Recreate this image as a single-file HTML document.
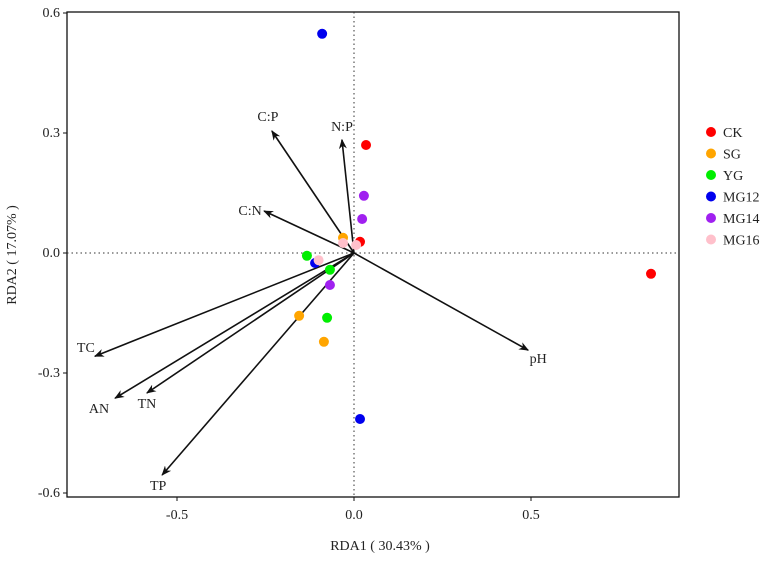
<!DOCTYPE html>
<html><head><meta charset="utf-8"><style>
body{margin:0;background:#fff}
svg text{font-family:"Liberation Serif",serif;fill:#222}
</style></head><body>
<svg id="chart" width="767" height="556" xmlns="http://www.w3.org/2000/svg">
<defs><marker id="ah" markerWidth="10" markerHeight="8" refX="9" refY="4" orient="auto" markerUnits="userSpaceOnUse"><path d="M0,0 L10,4 L0,8 L3,4 Z" fill="#111"/></marker></defs>
<g id="plot"></g>
</svg>
<script>
const groups=["CK","SG","YG","MG12","MG14","MG16"];
const colors=["#ff0000","#ffa500","#00ee00","#0000ee","#a020f0","#ffc0cb"];
const ptX=[[0.034,0.017,0.839],[-0.031,-0.155,-0.085],[-0.133,-0.068,-0.076],[-0.09,-0.11,0.017],[0.028,0.023,-0.068],[-0.031,-0.1,0.006]];
const ptY=[[0.27,0.028,-0.052],[0.038,-0.157,-0.222],[-0.007,-0.042,-0.162],[0.548,-0.025,-0.415],[0.143,0.085,-0.08],[0.025,-0.018,0.02]];
const envNames=["C:P","N:P","C:N","TC","AN","TN","TP","pH"];
const envX=[-0.232,-0.034,-0.254,-0.732,-0.675,-0.585,-0.542,0.492];
const envY=[0.305,0.283,0.105,-0.258,-0.363,-0.35,-0.555,-0.243];
const xTicks=[-0.5,0.0,0.5];
const yTicks=[0.6,0.3,0.0,-0.3,-0.6];
const L=67,R=679,T=12,B=497;
const sx=v=>354+v*354, sy=v=>253-v*400;
const NS="http://www.w3.org/2000/svg";
const g=document.getElementById('plot');
function mk(t,a,txt){const e=document.createElementNS(NS,t);for(const k in a)e.setAttribute(k,a[k]);if(txt!==undefined)e.textContent=txt;g.appendChild(e);return e;}
let e;
e=mk('rect',{x:L,y:T,width:R-L,height:B-T,fill:'none',stroke:'#111','stroke-width':1.3});


e=mk('line',{x1:L,x2:R,y1:sy(0),y2:sy(0),stroke:'#333','stroke-dasharray':'1.5,3'});


e=mk('line',{x1:sx(0),x2:sx(0),y1:T,y2:B,stroke:'#333','stroke-dasharray':'1.5,3'});


xTicks.forEach(v=>{
 e=mk('line',{x1:sx(v),x2:sx(v),y1:B,y2:B+4,stroke:'#111'});
 
 
 e=mk('text',{x:sx(v),y:B+22,'text-anchor':'middle','font-size':14},v.toFixed(1));
 
 
});
yTicks.forEach(v=>{
 e=mk('line',{x1:L-4,x2:L,y1:sy(v),y2:sy(v),stroke:'#111'});
 
 
 e=mk('text',{x:L-7,y:sy(v)+4,'text-anchor':'end','font-size':14},v.toFixed(1));
 
 
});
e=mk('text',{x:380,y:550,'text-anchor':'middle','font-size':14},'RDA1 ( 30.43% )');


e=mk('text',{x:0,y:0,'text-anchor':'middle','font-size':14,transform:'translate(16,255) rotate(-90)'},'RDA2 ( 17.07% )');


const lblOff=[[-4,-10],[0,-9],[-14,4],[-9,-4],[-16,15],[0,15],[-4,15],[10,13]];
envNames.forEach((n,i)=>{
 e=mk('line',{x1:sx(0),y1:sy(0),x2:sx(envX[i]),y2:sy(envY[i]),stroke:'#111','stroke-width':1.6,'marker-end':'url(#ah)'});
 
 
 e=mk('text',{x:sx(envX[i])+lblOff[i][0],y:sy(envY[i])+lblOff[i][1],'text-anchor':'middle','font-size':14},n);
 
 
});
groups.forEach((gr,i)=>{
 ptX[i].forEach((x,j)=>{
  e=mk('circle',{cx:sx(x),cy:sy(ptY[i][j]),r:5,fill:colors[i]});
  
  
 });
 const ly=132+i*21.5;
 e=mk('circle',{cx:711,cy:ly,r:5,fill:colors[i]});
 
 
 e=mk('text',{x:723,y:ly+5,'font-size':14},gr);
 
 
});
</script>
</body></html>
